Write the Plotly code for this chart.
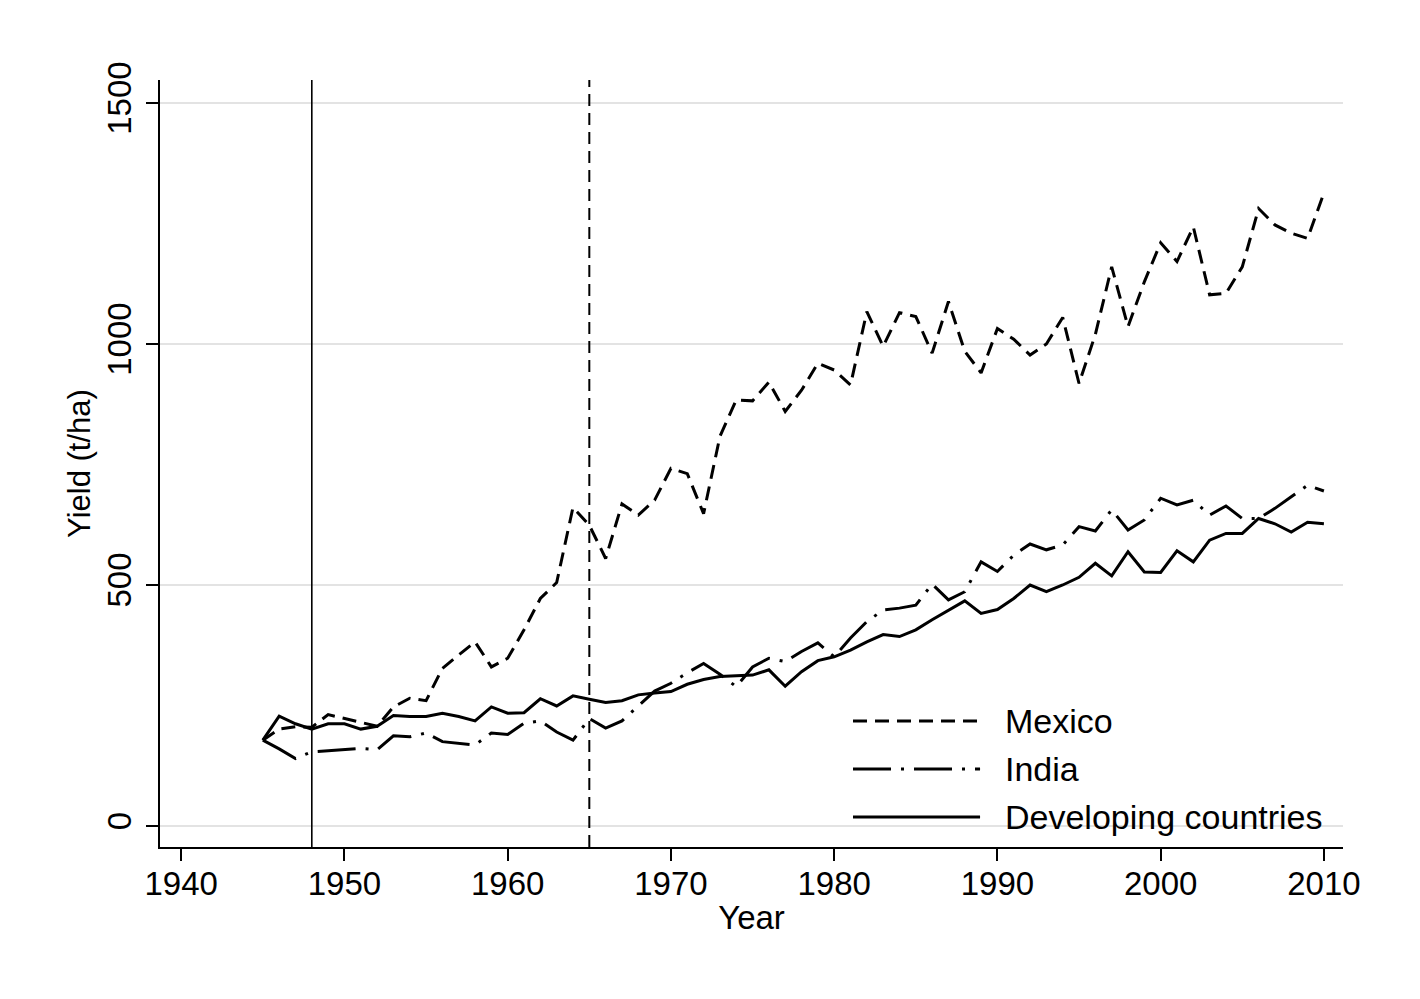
import plotly.graph_objects as go

years = list(range(1945, 2011))

mexico = [178, 201, 206, 205, 231, 223, 214, 207, 247, 265,
          260, 327, 355, 382, 330, 348, 407, 472, 505, 661,
          624, 555, 668, 645, 676, 742, 731, 648, 808, 884,
          882, 921, 860, 904, 960, 946, 915, 1067, 995, 1065,
          1057, 981, 1088, 985, 940, 1032, 1010, 977, 1000, 1055,
          918, 1020, 1160, 1036, 1129, 1210, 1171, 1243, 1102, 1105,
          1160, 1281, 1247, 1230, 1219, 1313]

india = [178, 160, 140, 154, 156, 159, 161, 158, 187, 185,
         193, 175, 171, 168, 193, 190, 213, 218, 195, 178,
         223, 203, 218, 250, 280, 296, 318, 337, 315, 289,
         330, 348, 341, 362, 380, 351, 390, 424, 448, 452,
         458, 502, 469, 486, 548, 528, 562, 585, 573, 583,
         621, 612, 656, 614, 635, 680, 666, 676, 645, 664,
         638, 638, 659, 683, 707, 695]

developing = [178, 228, 212, 201, 212, 212, 201, 207, 229, 227,
              227, 234, 227, 218, 247, 234, 235, 264, 249, 270,
              263, 256, 260, 272, 276, 279, 294, 304, 310, 311,
              313, 324, 290, 320, 343, 351, 365, 382, 397, 393,
              407, 428, 448, 467, 441, 449, 472, 500, 486, 500,
              516, 545, 519, 569, 527, 526, 571, 548, 593, 607,
              607, 638, 627, 610, 630, 627]

series_names = ["Mexico", "India", "Developing countries"]
series_dash = ["14px,8px", "38px,10px,3px,10px", "solid"]
event_years = [1948, 1965]
event_dash = ["solid", "12px,7px"]
x_ticks = [1940, 1950, 1960, 1970, 1980, 1990, 2000, 2010]
y_ticks = [0, 500, 1000, 1500]

FONT = "Liberation Sans, Arial, sans-serif"

fig = go.Figure()
for name, vals, dash in zip(series_names, [mexico, india, developing], series_dash):
    fig.add_trace(go.Scatter(
        x=years, y=vals, mode="lines", name=name,
        line=dict(color="black", width=3, dash=dash),
        showlegend=False,
    ))

for yr, dash in zip(event_years, event_dash):
    fig.add_shape(type="line", xref="x", yref="paper", x0=yr, x1=yr, y0=0, y1=1,
                  line=dict(color="black", width=1.6 if dash == "solid" else 2, dash=dash),
                  layer="above")

# manual legend (Stata-style long samples)
leg_y = [0.1643, 0.1017, 0.0391]
for name, dash, yy in zip(series_names, series_dash, leg_y):
    fig.add_shape(type="line", xref="paper", yref="paper", x0=0.5858, x1=0.6932,
                  y0=yy, y1=yy, line=dict(color="black", width=3, dash=dash))
    fig.add_annotation(xref="paper", yref="paper", x=0.7126, y=yy, text=name,
                       showarrow=False, xanchor="left", yanchor="middle",
                       font=dict(family=FONT, size=34, color="black"))

fig.update_layout(
    width=1420, height=999,
    margin=dict(l=152, r=85, t=72, b=160),
    paper_bgcolor="white", plot_bgcolor="white",
    font=dict(family=FONT, size=32, color="black"),
    showlegend=False,
)
fig.update_xaxes(
    range=[1938.7, 2011.17], tickvals=x_ticks, ticks="outside", ticklen=12,
    tickwidth=2, tickcolor="black", showline=True, linecolor="black", linewidth=2,
    showgrid=False, zeroline=False, tickfont=dict(size=33), ticklabelstandoff=-6,
    title=dict(text="Year", font=dict(size=33), standoff=5),
)
fig.update_yaxes(
    range=[-43.6, 1547.7], tickvals=y_ticks, ticks="outside", ticklen=12,
    tickwidth=2, tickcolor="black", showline=True, linecolor="black", linewidth=2,
    showgrid=True, gridcolor="#e3e3e3", gridwidth=1.5, zeroline=False,
    tickangle=-90, tickfont=dict(size=33), ticklabelstandoff=2,
    title=dict(text="Yield (t/ha)", font=dict(size=31), standoff=1),
)

fig.write_html("out.html")
